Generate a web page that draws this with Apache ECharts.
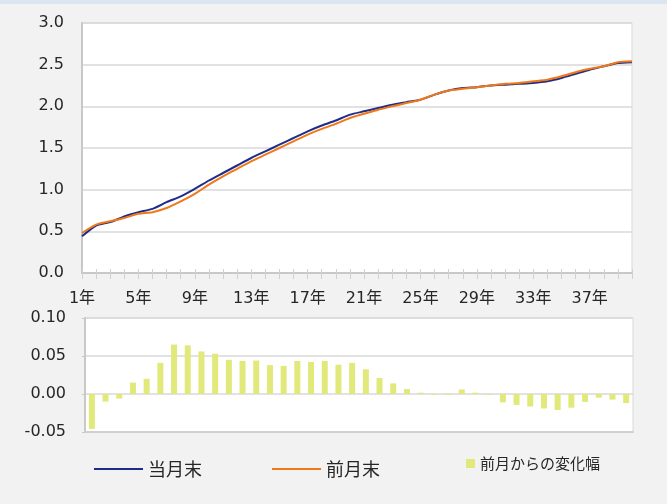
<!DOCTYPE html>
<html>
<head>
<meta charset="utf-8">
<script src="https://cdn.jsdelivr.net/npm/echarts@6/dist/echarts.min.js"></script>
<style>
html,body{margin:0;padding:0;background:#f2f2f2;}
#c{width:667px;height:504px;}
</style>
</head>
<body>
<div id="c"></div>
<script>
var categories = [];
for (var i = 1; i <= 40; i++) categories.push(i + '年');

var currentMonth = [0.44,0.57,0.61,0.68,0.73,0.77,0.85,0.92,1.01,1.11,
  1.20,1.29,1.38,1.46,1.54,1.62,1.70,1.77,1.83,1.90,
  1.94,1.98,2.02,2.05,2.08,2.14,2.19,2.22,2.23,2.25,
  2.26,2.27,2.28,2.30,2.34,2.39,2.44,2.48,2.52,2.53];

var previousMonth = [0.48,0.58,0.62,0.66,0.71,0.73,0.78,0.86,0.95,1.06,
  1.16,1.25,1.34,1.42,1.50,1.58,1.66,1.73,1.79,1.86,
  1.91,1.96,2.00,2.04,2.08,2.14,2.19,2.21,2.23,2.25,
  2.27,2.28,2.30,2.32,2.36,2.41,2.45,2.48,2.53,2.54];

var change = [-0.046,-0.010,-0.006,0.015,0.020,0.041,0.065,0.064,0.056,0.053,
  0.045,0.0435,0.044,0.038,0.037,0.0435,0.042,0.0435,0.0385,0.041,
  0.0325,0.021,0.014,0.0065,0.0017,-0.001,-0.001,0.006,0.0017,-0.001,
  -0.011,-0.0143,-0.0165,-0.019,-0.021,-0.018,-0.0104,-0.0048,-0.0074,-0.012];

var FONT = '"DejaVu Sans", "Noto Sans CJK JP", sans-serif';
var CJK = '"Noto Sans CJK JP", sans-serif';
var TXT = '#262626';

var chart = echarts.init(document.getElementById('c'));
chart.setOption({
  backgroundColor: '#f2f2f2',
  animation: false,
  graphic: [{
    type: 'rect', left: 0, top: 0, shape: {width: 667, height: 4},
    style: {fill: '#dce6f2'}, silent: true
  }],
  legend: [{
    data: ['当月末'], left: 94, top: 460, padding: 0,
    icon: 'rect', itemWidth: 49, itemHeight: 2,
    textStyle: {fontFamily: CJK, fontSize: 18, color: TXT}
  }, {
    data: ['前月末'], left: 272, top: 460, padding: 0,
    icon: 'rect', itemWidth: 49, itemHeight: 2,
    textStyle: {fontFamily: CJK, fontSize: 18, color: TXT}
  }, {
    data: ['前月からの変化幅'], left: 466, top: 456, padding: 0,
    icon: 'rect', itemWidth: 9, itemHeight: 9,
    textStyle: {fontFamily: CJK, fontSize: 15, color: TXT}
  }],
  grid: [
    {left: 82, top: 23, width: 550, height: 250, show: true,
     backgroundColor: '#ffffff', borderColor: '#d9d9d9', borderWidth: 1},
    {left: 85, top: 318, width: 548, height: 114, show: true,
     backgroundColor: '#ffffff', borderColor: '#d9d9d9', borderWidth: 1}
  ],
  xAxis: [{
    type: 'category', gridIndex: 0, data: categories, boundaryGap: false,
    axisLine: {lineStyle: {color: '#c8c8c8', width: 2}},
    axisTick: {show: true, interval: 0, length: 6, lineStyle: {color: '#d0d0d0', width: 1}},
    axisLabel: {interval: 3, margin: 18, fontSize: 16, fontFamily: FONT, color: TXT},
    splitLine: {show: false}
  }, {
    type: 'category', gridIndex: 1, data: categories, boundaryGap: true,
    axisLine: {onZero: false, lineStyle: {color: '#d0d0d0', width: 2}},
    axisTick: {show: false},
    axisLabel: {show: false},
    splitLine: {show: false}
  }, {
    type: 'category', gridIndex: 0, data: categories, boundaryGap: false, position: 'bottom',
    axisLine: {show: false},
    axisTick: {show: true, inside: true, interval: 0, length: 4, lineStyle: {color: '#d0d0d0', width: 1}},
    axisLabel: {show: false},
    splitLine: {show: false}
  }],
  yAxis: [{
    type: 'value', gridIndex: 0, min: 0, max: 3, interval: 0.5,
    axisLine: {show: true, lineStyle: {color: '#c8c8c8', width: 2}},
    axisTick: {show: false},
    axisLabel: {margin: 18, fontSize: 16, fontFamily: FONT, color: TXT,
      formatter: function (v) { return v.toFixed(1); }},
    splitLine: {lineStyle: {color: '#d9d9d9', width: 1.5}}
  }, {
    type: 'value', gridIndex: 1, min: -0.05, max: 0.10, interval: 0.05,
    axisLine: {show: true, lineStyle: {color: '#c8c8c8', width: 2}},
    axisTick: {show: true, length: 3, lineStyle: {color: '#c8c8c8'}},
    axisLabel: {margin: 19, fontSize: 16, fontFamily: FONT, color: TXT,
      formatter: function (v) { return (Math.abs(v) < 1e-9 ? 0 : v).toFixed(2); }},
    splitLine: {lineStyle: {color: '#d9d9d9', width: 1.5}}
  }],
  series: [{
    name: '当月末', type: 'line', xAxisIndex: 0, yAxisIndex: 0, data: currentMonth,
    showSymbol: false, symbol: 'none', smooth: 0.2,
    lineStyle: {color: '#1f2d8a', width: 2}, itemStyle: {color: '#1f2d8a'}
  }, {
    name: '前月末', type: 'line', xAxisIndex: 0, yAxisIndex: 0, data: previousMonth,
    showSymbol: false, symbol: 'none', smooth: 0.2,
    lineStyle: {color: '#f07818', width: 2}, itemStyle: {color: '#f07818'}
  }, {
    name: '前月からの変化幅', type: 'bar', xAxisIndex: 1, yAxisIndex: 1, data: change,
    barWidth: 6, itemStyle: {color: '#e0e97a'}
  }]
});
</script>
</body>
</html>
